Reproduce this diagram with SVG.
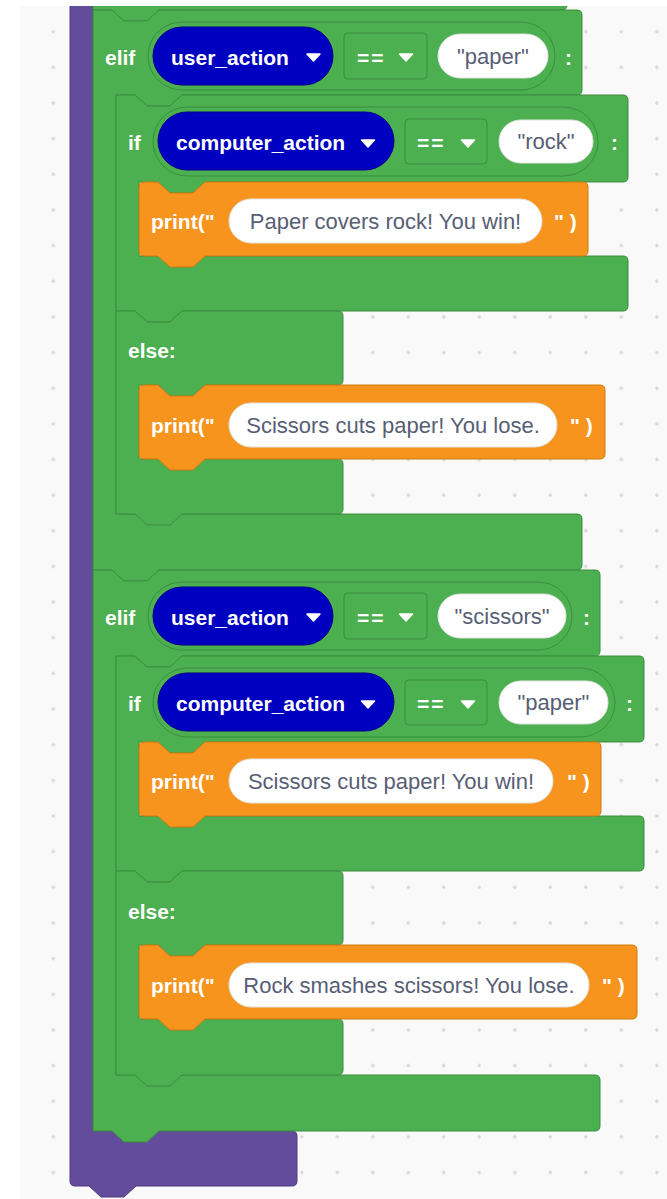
<svg xmlns="http://www.w3.org/2000/svg" width="667" height="1199" viewBox="0 0 667 1199">
<style>
.g{fill:#4caf50;stroke:#3b8e3f;stroke-width:1}
.o{fill:#f7941d;stroke:#cf7a14;stroke-width:1}
.p{fill:#634c9c;stroke:#4e3b7d;stroke-width:1}
.cont{fill:#4caf50;stroke:#3b8e3f;stroke-width:1}
.var{fill:#0000c0;stroke:#00008c;stroke-width:1}
.pill{fill:#ffffff;stroke:#e2e2e2;stroke-width:1}
.lbl{font-family:"Liberation Sans",Arial,sans-serif;font-weight:bold;font-size:21px;fill:#ffffff}
.str{font-family:"Liberation Sans",Arial,sans-serif;font-size:22px;fill:#575e75;text-anchor:middle}
.tri{fill:#ffffff;stroke:#ffffff;stroke-width:1.5;stroke-linejoin:round}
</style>
<defs>
<pattern id="grid" patternUnits="userSpaceOnUse" x="35.55" y="13.875" width="35.5" height="35.65">
<path d="M15.75,17.825h4M17.75,15.825v4" stroke="#cccccc" stroke-width="1" fill="none"/>
</pattern>
<path id="tri" d="M-6.5,0H6.5L0,7Z"/>
</defs>
<rect x="0" y="0" width="667" height="1199" fill="#ffffff"/>
<rect x="20" y="6" width="647" height="1193" fill="#f9f9f9"/>
<rect x="20" y="6" width="647" height="1193" fill="url(#grid)"/>

<g id="purple-block">
<path class="p" d="M70,0H93V1131H292Q297,1131 297,1136V1181Q297,1186 292,1186H136L124,1197H101L89,1186H75Q70,1186 70,1181Z"/>
</g>

<g id="previous-block">
<path class="g" d="M93,0H567V5Q567,10 562,10H159L147,21H124L112,10H93Z"/>
</g>

<g id="elif-1">
<path class="g" d="M93,10H112L124,21H147L159,10H577Q582,10 582,15V90Q582,95 577,95H182L170,106H147L135,95H116V514H577Q582,514 582,519V565Q582,570 577,570H159L147,581H124L112,570H93Z"/>
<text class="lbl" x="105" y="65">elif</text>
<rect class="cont" x="148" y="22" width="407" height="68" rx="34"/>
<rect class="var" x="153" y="27" width="180" height="58" rx="29"/>
<text class="lbl" x="171" y="65">user_action</text>
<use href="#tri" class="tri" transform="translate(313.5,54)"/>
<rect class="cont" x="344" y="33" width="83" height="46" rx="4"/>
<text class="lbl" x="357" y="65" letter-spacing="2">==</text>
<use href="#tri" class="tri" transform="translate(406,54)"/>
<rect class="pill" x="438" y="34" width="110" height="44" rx="22"/>
<text class="str" x="493" y="64">"paper"</text>
<text class="lbl" x="565" y="65">:</text>
</g>

<g id="if-1">
<path class="g" d="M116,95H135L147,106H170L182,95H623Q628,95 628,100V177Q628,182 623,182H205L193,193H170L158,182H139V256H623Q628,256 628,261V306Q628,311 623,311H182L170,322H147L135,311H116Z"/>
<text class="lbl" x="128" y="150">if</text>
<rect class="cont" x="153" y="107" width="445" height="69" rx="34.5"/>
<rect class="var" x="158" y="112" width="236" height="58" rx="29"/>
<text class="lbl" x="176" y="150">computer_action</text>
<use href="#tri" class="tri" transform="translate(368,140)"/>
<rect class="cont" x="405" y="119" width="82" height="45" rx="4"/>
<text class="lbl" x="417" y="150" letter-spacing="2">==</text>
<use href="#tri" class="tri" transform="translate(468,140)"/>
<rect class="pill" x="499" y="120" width="94" height="43" rx="21.5"/>
<text class="str" x="546" y="149">"rock"</text>
<text class="lbl" x="611" y="150">:</text>
</g>

<g id="print-1">
<path class="o" d="M139,187Q139,182 144,182H158L170,193H193L205,182H583Q588,182 588,187V251Q588,256 583,256H205L193,267H170L158,256H144Q139,256 139,251Z"/>
<text class="lbl" x="151" y="229">print("</text>
<rect class="pill" x="229" y="199" width="313" height="44" rx="22"/>
<text class="str" x="385.5" y="229">Paper covers rock! You win!</text>
<text class="lbl" x="554" y="229">" )</text>
</g>

<g id="else-1">
<path class="g" d="M116,311H135L147,322H170L182,311H338Q343,311 343,316V380Q343,385 338,385H205L193,396H170L158,385H139V459H338Q343,459 343,464V509Q343,514 338,514H182L170,525H147L135,514H116Z"/>
<text class="lbl" x="128" y="358">else:</text>
</g>

<g id="print-2">
<path class="o" d="M139,390Q139,385 144,385H158L170,396H193L205,385H600Q605,385 605,390V454Q605,459 600,459H205L193,470H170L158,459H144Q139,459 139,454Z"/>
<text class="lbl" x="151" y="433">print("</text>
<rect class="pill" x="229" y="403" width="328" height="44" rx="22"/>
<text class="str" x="393" y="433">Scissors cuts paper! You lose.</text>
<text class="lbl" x="570" y="433">" )</text>
</g>

<g id="elif-2">
<path class="g" d="M93,570H112L124,581H147L159,570H595Q600,570 600,575V651Q600,656 595,656H182L170,667H147L135,656H116V1075H595Q600,1075 600,1080V1126Q600,1131 595,1131H159L147,1142H124L112,1131H93Z"/>
<text class="lbl" x="105" y="625">elif</text>
<rect class="cont" x="148" y="582" width="424" height="68" rx="34"/>
<rect class="var" x="153" y="587" width="180" height="58" rx="29"/>
<text class="lbl" x="171" y="625">user_action</text>
<use href="#tri" class="tri" transform="translate(313.5,614)"/>
<rect class="cont" x="344" y="593" width="83" height="46" rx="4"/>
<text class="lbl" x="357" y="625" letter-spacing="2">==</text>
<use href="#tri" class="tri" transform="translate(406,614)"/>
<rect class="pill" x="438" y="594" width="128" height="44" rx="22"/>
<text class="str" x="502" y="624">"scissors"</text>
<text class="lbl" x="583" y="625">:</text>
</g>

<g id="if-2">
<path class="g" d="M116,656H135L147,667H170L182,656H639Q644,656 644,661V737Q644,742 639,742H205L193,753H170L158,742H139V816H639Q644,816 644,821V866Q644,871 639,871H182L170,882H147L135,871H116Z"/>
<text class="lbl" x="128" y="711">if</text>
<rect class="cont" x="153" y="668" width="462" height="69" rx="34.5"/>
<rect class="var" x="158" y="673" width="236" height="58" rx="29"/>
<text class="lbl" x="176" y="711">computer_action</text>
<use href="#tri" class="tri" transform="translate(368,701)"/>
<rect class="cont" x="405" y="680" width="82" height="45" rx="4"/>
<text class="lbl" x="417" y="711" letter-spacing="2">==</text>
<use href="#tri" class="tri" transform="translate(468,701)"/>
<rect class="pill" x="499" y="681" width="109" height="43" rx="21.5"/>
<text class="str" x="553.5" y="710">"paper"</text>
<text class="lbl" x="626" y="711">:</text>
</g>

<g id="print-3">
<path class="o" d="M139,747Q139,742 144,742H158L170,753H193L205,742H596Q601,742 601,747V811Q601,816 596,816H205L193,827H170L158,816H144Q139,816 139,811Z"/>
<text class="lbl" x="151" y="789">print("</text>
<rect class="pill" x="229" y="759" width="324" height="44" rx="22"/>
<text class="str" x="391" y="789">Scissors cuts paper! You win!</text>
<text class="lbl" x="567" y="789">" )</text>
</g>

<g id="else-2">
<path class="g" d="M116,871H135L147,882H170L182,871H338Q343,871 343,876V940Q343,945 338,945H205L193,956H170L158,945H139V1019H338Q343,1019 343,1024V1070Q343,1075 338,1075H182L170,1086H147L135,1075H116Z"/>
<text class="lbl" x="128" y="919">else:</text>
</g>

<g id="print-4">
<path class="o" d="M139,950Q139,945 144,945H158L170,956H193L205,945H632Q637,945 637,950V1014Q637,1019 632,1019H205L193,1030H170L158,1019H144Q139,1019 139,1014Z"/>
<text class="lbl" x="151" y="993">print("</text>
<rect class="pill" x="229" y="963" width="360" height="44" rx="22"/>
<text class="str" x="409" y="993">Rock smashes scissors! You lose.</text>
<text class="lbl" x="602" y="993">" )</text>
</g>

<rect x="0" y="0" width="667" height="6" fill="#ffffff"/>
</svg>
